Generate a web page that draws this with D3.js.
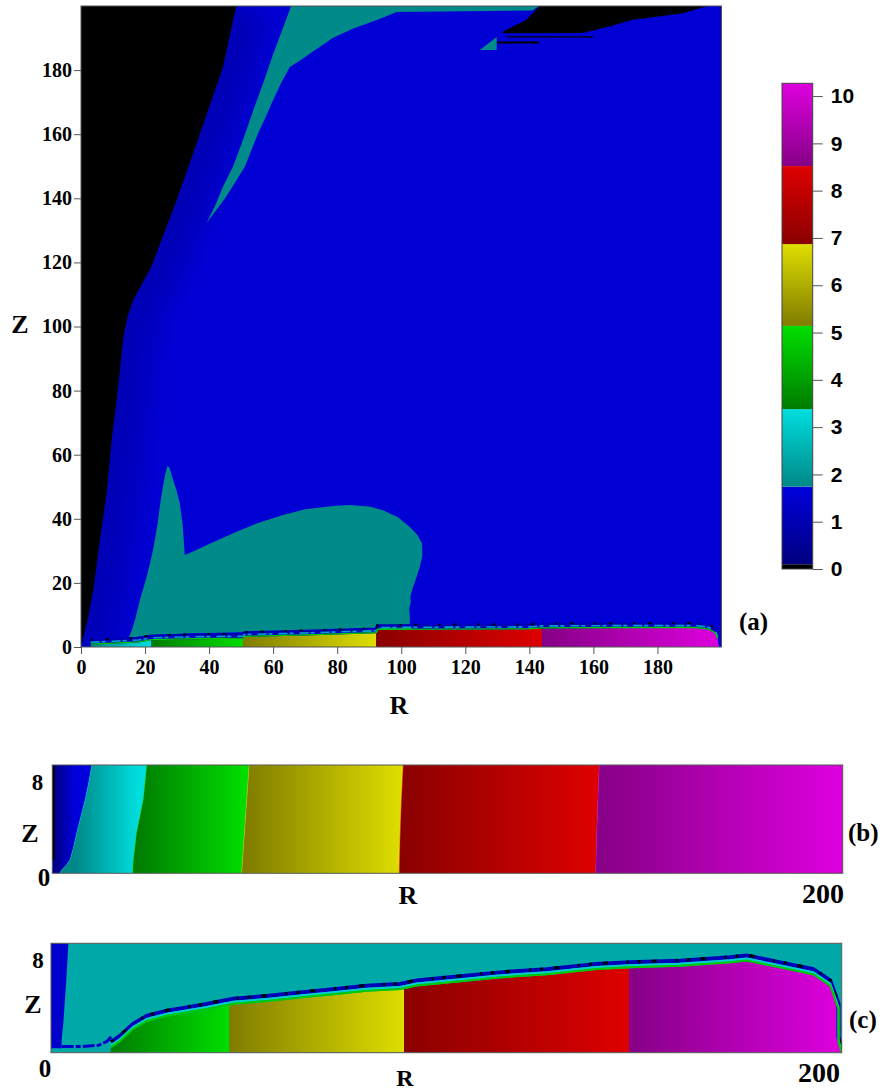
<!DOCTYPE html>
<html>
<head>
<meta charset="utf-8">
<script src="https://cdn.jsdelivr.net/npm/d3@7"></script>
<style>
  body { margin: 0; background: #fff; }
  text { font-family: 'Liberation Serif', 'Times New Roman', serif; font-weight: bold; }
</style>
</head>
<body>
<svg id="fig" width="883" height="1091"></svg>
<script>
// colour bar: segment limits, dark and bright end of each segment
const cbLimits = [0, 0.1, 1.74, 3.38, 5.14, 6.87, 8.52, 10.27];
const cbDark = ['#000000', '#000080', '#008888', '#007c00', '#807c00', '#8a0000', '#860086'];
const cbBright = ['#000000', '#0000dc', '#00dede', '#00de00', '#dede00', '#de0000', '#de00de'];
const cbTicks = [0, 1, 2, 3, 4, 5, 6, 7, 8, 9, 10];

// panel (a)
const ticksA = [0, 20, 40, 60, 80, 100, 120, 140, 160, 180];
const valueBlueA = 1.6;
const valueTealA = 1.78;
const valueShadeA = 0.9;
// black wedge edge, bottom to top (R, Z)
const blackEdgeA = [[0, 0], [0.5, 2.2], [2, 8.4], [3.85, 17.8], [5.9, 33.4], [8, 48], [9.6, 65],
  [10.9, 75], [12, 85], [13.3, 97], [14.5, 103], [16.3, 108.3], [22, 118.7], [29.9, 139.5],
  [37.2, 160.3], [44.4, 181.1], [47.5, 195.8], [48.6, 200]];
const blackTopA = [[143.2, 200], [141, 197.7], [139, 195.6], [134.9, 193.6], [131.7, 192],
  [131.7, 191.5], [156.6, 191.6], [165, 193.6], [172, 195.6], [188, 197.7], [194, 199.5], [196, 200]];
const blackStripesA = [
  [[130, 188.3], [143, 188.3], [143, 188.9], [130, 188.9]],
  [[133, 190.2], [160, 190.2], [160, 190.6], [133, 190.6]],
];
const plumeA = [[39.2, 132.3], [42, 138], [44.5, 144], [47.5, 150], [50.5, 158], [53.8, 167.5],
  [56.9, 176], [60, 185], [63, 193], [65.2, 198.8], [65.5, 200], [143, 200], [141, 198.6],
  [120, 198.4], [98.6, 198.1], [92.4, 195.6], [85, 193], [78.6, 190], [72, 185.5], [68.3, 182.9],
  [65.2, 181], [62.5, 176], [60, 170.7], [57.5, 165], [55.3, 160.3], [51.2, 149.9], [47.5, 144],
  [45, 140], [40.5, 134]];
const triangleA = [[124.5, 186.3], [129.8, 190.3], [129.8, 186.3]];
const whaleA = [[14.8, 2.7], [15.8, 5], [17, 9], [18.4, 14.7], [19.5, 18.5], [20.8, 23], [22, 28.1],
  [23, 33], [24, 39], [24.6, 43.8], [25.4, 49], [26.2, 53.5], [27, 56.5], [27.6, 56], [28.5, 53],
  [29.8, 49], [30.8, 45], [31.7, 38.6], [32.1, 33], [32.4, 28.7], [35, 29.8], [40, 32.1],
  [47.5, 35.5], [55, 38.6], [63.1, 41.2], [70, 43], [78.7, 44], [83.9, 44.3], [90, 43.8],
  [94.3, 42.7], [99, 40.5], [102.6, 37.5], [105, 35], [106.5, 32.3], [106.6, 28.5], [105.8, 25],
  [104.5, 21], [103.6, 18.5], [102.8, 15.5], [103, 14.2], [102.5, 12], [102.7, 9], [102.6, 6.9],
  [103.5, 5.5], [100, 5], [90, 4.8], [70, 4.8], [50, 4.6], [35, 4.3], [25, 3.8], [18, 3.3]];
const topA = [[3, 0], [3, 0.7], [10, 1.0], [18, 1.4], [22, 2.1], [35, 2.4], [50.6, 2.6], [51, 3.1],
  [70, 3.6], [92.2, 4.3], [92.6, 5.3], [110, 5.4], [140, 5.5], [144, 5.8], [170, 5.9], [192, 5.9],
  [196, 5.4], [198, 4.3], [198.8, 2.5], [199.2, 0]];
const bandsA = [
  {r0: 3, r1: 22, seg: 2},
  {r0: 22, r1: 50.6, seg: 3},
  {r0: 50.6, r1: 92.2, seg: 4},
  {r0: 92.2, r1: 144, seg: 5},
  {r0: 144, r1: 200, seg: 6},
];

// panel (b): band edges, bottom to top (R, Z)
const edgesB = [
  [[0, 0], [0, 9.6]],
  [[1.9, 0], [2.4, 0.3], [3.5, 0.7], [4.5, 1.2], [5.3, 2.2], [6.2, 3.6], [7.2, 5], [8.3, 6.5], [9.2, 8], [10, 9.6]],
  [[20.3, 0], [20.5, 1.2], [21.3, 3.6], [23, 6.5], [23.9, 9.6]],
  [[47.9, 0], [48.3, 2], [48.9, 5], [49.4, 7.5], [49.8, 9.6]],
  [[87.8, 0], [88, 3], [88.3, 6], [88.8, 9.6]],
  [[137.5, 0], [137.7, 3], [138, 6], [138.4, 9.6]],
  [[200, 0], [200, 9.6]],
];
const segsB = [1, 2, 3, 4, 5, 6];
const blackStripB = [[0, 1.2], [0, 9.6], [0.6, 9.6], [0.6, 1.2]];

// panel (c)
const valueTealC = 2.35;
const valueBlueC = 1.45;
const blueStripC = [[0, 0], [0, 9.6], [4.4, 9.6], [3.8, 6], [3.1, 2.5], [2.7, 1.2], [2.7, 0.4], [0, 0.4]];
const blueFloorC = [[2.7, 0.55], [8, 0.55], [12, 0.65], [14.2, 1.0], [15.2, 1.4]];
const topC = [[14.9, 0], [15.2, 0.4], [17.5, 0.96], [20.8, 2.0], [24.2, 2.7], [29.3, 3.15], [34.3, 3.45],
  [39.4, 3.75], [46.1, 4.2], [54.6, 4.45], [63, 4.75], [71.4, 5.05], [79.9, 5.35], [88.3, 5.5],
  [92.5, 5.8], [100.9, 6.1], [104.3, 6.2], [112.8, 6.5], [125.4, 6.8], [138, 7.25], [146.5, 7.4],
  [159.1, 7.55], [171.8, 7.85], [176, 8.0], [184.4, 7.4], [192.8, 6.8], [197.1, 5.8], [199.2, 3.75],
  [199.2, 0.85], [199.9, 0]];
const bandsC = [
  {r0: 15, r1: 45.1, seg: 3},
  {r0: 45.1, r1: 89.3, seg: 4},
  {r0: 89.3, r1: 146.2, seg: 5},
  {r0: 146.2, r1: 200, seg: 6},
];

const svg = d3.select('#fig');
const defs = svg.append('defs');

const colorOf = (v) => {
  let i = d3.bisectRight(cbLimits, v) - 1;
  i = Math.max(0, Math.min(cbDark.length - 1, i));
  const t = (v - cbLimits[i]) / (cbLimits[i + 1] - cbLimits[i]);
  return d3.interpolateRgb(cbDark[i], cbBright[i])(Math.max(0, Math.min(1, t)));
};

let gradCount = 0;
const gradient = (x1, y1, x2, y2, c1, c2) => {
  const id = `grad${gradCount++}`;
  const g = defs.append('linearGradient').attr('id', id)
    .attr('gradientUnits', 'userSpaceOnUse')
    .attr('x1', x1).attr('y1', y1).attr('x2', x2).attr('y2', y2);
  g.append('stop').attr('offset', 0).attr('stop-color', c1);
  g.append('stop').attr('offset', 1).attr('stop-color', c2);
  return `url(#${id})`;
};

const clip = (id, x, y, w, h) => {
  defs.append('clipPath').attr('id', id)
    .append('rect').attr('x', x).attr('y', y).attr('width', w).attr('height', h);
  return `url(#${id})`;
};

defs.append('filter').attr('id', 'soft')
  .attr('x', '-50%').attr('y', '-50%').attr('width', '200%').attr('height', '200%')
  .append('feGaussianBlur').attr('stdDeviation', 12);

// ---------------- panel (a) ----------------
const xA = d3.scaleLinear().domain([0, 200]).range([81, 721.5]);
const yA = d3.scaleLinear().domain([0, 200]).range([647, 6]);
const lineA = d3.line().x((d) => xA(d[0])).y((d) => yA(d[1]));
const polyA = (pts) => lineA(pts) + 'Z';

const gA = svg.append('g').attr('clip-path', clip('clipA', 81, 6, 640.5, 641));

gA.append('rect')
  .attr('x', 81).attr('y', 6).attr('width', 640.5).attr('height', 641)
  .attr('fill', colorOf(valueBlueA));

// darker blue along the black wedge
gA.append('path')
  .attr('d', lineA(blackEdgeA))
  .attr('fill', 'none')
  .attr('stroke', colorOf(valueShadeA))
  .attr('stroke-width', 60)
  .attr('opacity', 0.75)
  .attr('filter', 'url(#soft)');

gA.append('path').attr('d', polyA([[0, 200]].concat(blackEdgeA))).attr('fill', '#000');
gA.append('path').attr('d', polyA(plumeA)).attr('fill', colorOf(valueTealA));
gA.append('path').attr('d', polyA(triangleA)).attr('fill', colorOf(valueTealA));
gA.append('path').attr('d', polyA(blackTopA)).attr('fill', '#000');
gA.selectAll('.stripe')
  .data(blackStripesA)
  .join('path')
  .attr('class', 'stripe')
  .attr('d', (d) => polyA(d))
  .attr('fill', '#000');
gA.append('path').attr('d', polyA(whaleA)).attr('fill', colorOf(valueTealA));

// coloured layer on the floor
defs.append('clipPath').attr('id', 'floorA')
  .append('path').attr('d', polyA(topA));
gA.append('g')
  .attr('clip-path', 'url(#floorA)')
  .selectAll('rect')
  .data(bandsA)
  .join('rect')
  .attr('x', (d) => xA(d.r0))
  .attr('width', (d) => xA(d.r1) - xA(d.r0))
  .attr('y', yA(20))
  .attr('height', yA(0) - yA(20))
  .attr('fill', (d) => gradient(xA(d.r0), 0, xA(d.r1), 0, cbDark[d.seg], cbBright[d.seg]));

// ragged contour band above the floor layer
const floorTopA = topA.slice(1, -1);
gA.append('path').attr('d', lineA(floorTopA)).attr('fill', 'none')
  .attr('stroke', colorOf(1.15)).attr('stroke-width', 3.5).attr('transform', 'translate(0,-4)');
gA.append('path').attr('d', lineA(floorTopA)).attr('fill', 'none')
  .attr('stroke', colorOf(3.0)).attr('stroke-width', 1.6).attr('stroke-dasharray', '9 2 4 6')
  .attr('opacity', 0.8)
  .attr('transform', 'translate(0,-2.5)');
gA.append('path').attr('d', lineA(floorTopA)).attr('fill', 'none')
  .attr('stroke', '#000').attr('stroke-width', 2).attr('stroke-dasharray', '2 13 3 21')
  .attr('transform', 'translate(0,-5)');
gA.append('path').attr('d', lineA(floorTopA)).attr('fill', 'none')
  .attr('stroke', colorOf(4.8)).attr('stroke-width', 1.3).attr('transform', 'translate(0,-0.6)');

svg.append('rect')
  .attr('x', 81).attr('y', 6).attr('width', 640.5).attr('height', 641)
  .attr('fill', 'none').attr('stroke', '#555').attr('stroke-width', 1);

const styleAxis = (g, size) => {
  g.select('.domain').remove();
  g.attr('color', '#555')
    .attr('font-family', "'Liberation Serif', 'Times New Roman', serif")
    .attr('font-weight', 'bold')
    .attr('font-size', size);
  g.selectAll('text')
    .attr('fill', '#000')
    .style('font-family', "'Liberation Serif', 'Times New Roman', serif")
    .style('font-weight', 'bold')
    .style('font-size', `${size}px`);
};

svg.append('g')
  .attr('transform', `translate(${xA(0)},0)`)
  .call(d3.axisLeft(yA).tickValues(ticksA).tickSize(7).tickPadding(2))
  .call((g) => styleAxis(g, 20));

svg.append('g')
  .attr('transform', `translate(0,${yA(0)})`)
  .call(d3.axisBottom(xA).tickValues(ticksA).tickSize(7).tickPadding(6))
  .call((g) => styleAxis(g, 20));

svg.append('text').attr('x', 20).attr('y', 333).attr('text-anchor', 'middle')
  .style('font-size', '26px').text('Z');
svg.append('text').attr('x', 399).attr('y', 714).attr('text-anchor', 'middle')
  .style('font-size', '26px').text('R');
svg.append('text').attr('x', 739).attr('y', 630)
  .style('font-size', '25px').text('(a)');

// ---------------- colour bar ----------------
const yCB = d3.scaleLinear().domain([0, 10.27]).range([569, 83.3]);
const cbX = 782;
const cbW = 30.7;
svg.append('g')
  .selectAll('rect')
  .data(d3.range(cbDark.length))
  .join('rect')
  .attr('x', cbX)
  .attr('width', cbW)
  .attr('y', (i) => yCB(cbLimits[i + 1]))
  .attr('height', (i) => yCB(cbLimits[i]) - yCB(cbLimits[i + 1]))
  .attr('fill', (i) => gradient(0, yCB(cbLimits[i]), 0, yCB(cbLimits[i + 1]), cbDark[i], cbBright[i]));
svg.append('rect')
  .attr('x', cbX).attr('y', yCB(10.27)).attr('width', cbW).attr('height', yCB(0) - yCB(10.27))
  .attr('fill', 'none').attr('stroke', '#444').attr('stroke-width', 1);
svg.append('g')
  .attr('transform', `translate(${cbX + cbW},0)`)
  .call(d3.axisRight(yCB).tickValues(cbTicks).tickSize(10).tickPadding(8))
  .call((g) => {
    g.select('.domain').remove();
    g.attr('color', '#555');
    g.selectAll('text')
      .attr('fill', '#000')
      .style('font-family', "'Liberation Sans', Arial, sans-serif")
      .style('font-weight', 'bold')
      .style('font-size', '21px');
  });

// ---------------- panel (b) ----------------
const xB = d3.scaleLinear().domain([0, 200]).range([52.3, 842.7]);
const yB = d3.scaleLinear().domain([0, 9.6]).range([873.3, 765]);
const lineB = d3.line().x((d) => xB(d[0])).y((d) => yB(d[1]));
const gB = svg.append('g').attr('clip-path', clip('clipB', 52.3, 765, 790.4, 108.3));

gB.selectAll('path.band')
  .data(segsB)
  .join('path')
  .attr('class', 'band')
  .attr('d', (seg, i) => lineB(edgesB[i].concat(edgesB[i + 1].slice().reverse())) + 'Z')
  .attr('fill', (seg, i) => gradient(
    xB(d3.mean(edgesB[i], (d) => d[0])), 0,
    xB(d3.mean(edgesB[i + 1], (d) => d[0])), 0,
    cbDark[seg], cbBright[seg]))
  .attr('stroke', (seg) => cbBright[seg])
  .attr('stroke-width', 0.4);
gB.append('path').attr('d', lineB(blackStripB) + 'Z').attr('fill', '#000');

svg.append('rect')
  .attr('x', 52.3).attr('y', 765).attr('width', 790.4).attr('height', 108.3)
  .attr('fill', 'none').attr('stroke', '#555').attr('stroke-width', 1);

svg.append('text').attr('x', 37.5).attr('y', 790).attr('text-anchor', 'middle').style('font-size', '23px').text('8');
svg.append('text').attr('x', 30).attr('y', 842).attr('text-anchor', 'middle').style('font-size', '26px').text('Z');
svg.append('text').attr('x', 44).attr('y', 886).attr('text-anchor', 'middle').style('font-size', '25px').text('0');
svg.append('text').attr('x', 408).attr('y', 904).attr('text-anchor', 'middle').style('font-size', '26px').text('R');
svg.append('text').attr('x', 823).attr('y', 903).attr('text-anchor', 'middle').style('font-size', '28px').text('200');
svg.append('text').attr('x', 848).attr('y', 841).style('font-size', '25px').text('(b)');

// ---------------- panel (c) ----------------
const xC = d3.scaleLinear().domain([0, 200]).range([51, 841.7]);
const yC = d3.scaleLinear().domain([0, 9.6]).range([1052.7, 943.3]);
const lineC = d3.line().x((d) => xC(d[0])).y((d) => yC(d[1]));
const gC = svg.append('g').attr('clip-path', clip('clipC', 51, 943.3, 790.7, 109.4));

gC.append('rect')
  .attr('x', 51).attr('y', 943.3).attr('width', 790.7).attr('height', 109.4)
  .attr('fill', colorOf(valueTealC));
gC.append('path').attr('d', lineC(blueStripC) + 'Z').attr('fill', colorOf(valueBlueC));
gC.append('path').attr('d', lineC(blueFloorC)).attr('fill', 'none')
  .attr('stroke', colorOf(valueBlueC)).attr('stroke-width', 3).attr('stroke-dasharray', '12 2 5 2');

defs.append('clipPath').attr('id', 'floorC')
  .append('path').attr('d', lineC(topC) + 'Z');
gC.append('g')
  .attr('clip-path', 'url(#floorC)')
  .selectAll('rect')
  .data(bandsC)
  .join('rect')
  .attr('x', (d) => xC(d.r0))
  .attr('width', (d) => xC(d.r1) - xC(d.r0))
  .attr('y', yC(9.6))
  .attr('height', yC(0) - yC(9.6))
  .attr('fill', (d) => gradient(xC(d.r0), 0, xC(d.r1), 0, cbDark[d.seg], cbBright[d.seg]));

const floorTopC = topC.slice(1);
gC.append('path').attr('d', lineC(floorTopC)).attr('fill', 'none')
  .attr('stroke', colorOf(1.1)).attr('stroke-width', 4).attr('transform', 'translate(0,-6)');
gC.append('path').attr('d', lineC(floorTopC)).attr('fill', 'none')
  .attr('stroke', '#000').attr('stroke-width', 3).attr('stroke-dasharray', '3 11 5 19 2 9')
  .attr('transform', 'translate(0,-6.5)');
gC.append('path').attr('d', lineC(floorTopC)).attr('fill', 'none')
  .attr('stroke', colorOf(3.1)).attr('stroke-width', 2).attr('transform', 'translate(0,-3)');
gC.append('path').attr('d', lineC(floorTopC)).attr('fill', 'none')
  .attr('stroke', colorOf(4.8)).attr('stroke-width', 2).attr('transform', 'translate(0,-1)');

svg.append('rect')
  .attr('x', 51).attr('y', 943.3).attr('width', 790.7).attr('height', 109.4)
  .attr('fill', 'none').attr('stroke', '#555').attr('stroke-width', 1);

svg.append('text').attr('x', 38).attr('y', 968).attr('text-anchor', 'middle').style('font-size', '23px').text('8');
svg.append('text').attr('x', 33).attr('y', 1013).attr('text-anchor', 'middle').style('font-size', '26px').text('Z');
svg.append('text').attr('x', 45).attr('y', 1077).attr('text-anchor', 'middle').style('font-size', '25px').text('0');
svg.append('text').attr('x', 405).attr('y', 1086).attr('text-anchor', 'middle').style('font-size', '24px').text('R');
svg.append('text').attr('x', 819).attr('y', 1082).attr('text-anchor', 'middle').style('font-size', '28px').text('200');
svg.append('text').attr('x', 849).attr('y', 1028).style('font-size', '25px').text('(c)');
</script>
</body>
</html>
